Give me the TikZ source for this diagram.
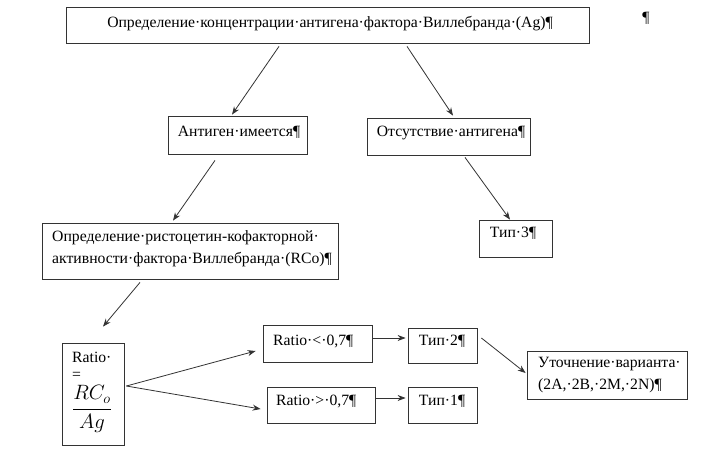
\documentclass[tikz,border=0pt]{standalone}
\usepackage{fontspec}
\setmainfont{Liberation Serif}
\usetikzlibrary{calc,arrows.meta}
\begin{document}
\begin{tikzpicture}[x=1pt,y=-1pt,
  box/.style={draw=black!80,line width=0.8pt,rectangle,inner sep=0pt},
  txt/.style={inner sep=0pt,font=\fontsize{15.7}{22}\selectfont,text=black},
  arr/.style={draw=black!80,line width=0.8pt,-{Stealth[length=8pt,width=6pt]}}]
\useasboundingbox[fill=white] (0,0) rectangle (708,452);
% boxes
\node[box,minimum width=523pt,minimum height=36pt] (top) at (327.5,25) {};
\node[box,minimum width=139pt,minimum height=38pt] (ag) at (237.5,135) {};
\node[box,minimum width=163pt,minimum height=37pt] (abs) at (448.5,136.5) {};
\node[box,minimum width=296pt,minimum height=56pt] (rco) at (190,251) {};
\node[box,minimum width=73pt,minimum height=37pt] (t3) at (515.5,238.5) {};
\node[box,minimum width=62pt,minimum height=102pt] (ratio) at (93,394) {};
\node[box,minimum width=109pt,minimum height=37pt] (lt) at (317.5,343.5) {};
\node[box,minimum width=108pt,minimum height=36pt] (gt) at (321,405) {};
\node[box,minimum width=69pt,minimum height=35pt] (t2) at (442.5,345.5) {};
\node[box,minimum width=69pt,minimum height=36pt] (t1) at (442.5,405) {};
\node[box,minimum width=160pt,minimum height=48pt] (var) at (607,375) {};
% texts
\node[txt] (toptxt) at (330,24) {Определение·концентрации·антигена·фактора·Виллебранда·(Ag)¶};
\node[txt] (agtxt) at (239,132) {Антиген·имеется¶};
\node[txt] (abstxt) at (451,133) {Отсутствие·антигена¶};
\node[txt,anchor=west,align=left] (rcotxt) at (52,249) {Определение·ристоцетин-кофакторной·\\активности·фактора·Виллебранда·(RCo)¶};
\node[txt] (t3txt) at (513,233) {Тип·3¶};
\node[txt,anchor=west] (ratiotxt) at (72,357) {Ratio·};
\node[txt,anchor=west] (eqtxt) at (72,376) {=};
\node[inner sep=0pt,font=\fontsize{20}{24}\selectfont] (fractxt) at (92,409) {$\displaystyle\frac{RC_{o}}{Ag}$};
\node[txt,anchor=west] (lttxt) at (273,341) {Ratio·<·0,7¶};
\node[txt,anchor=west] (gttxt) at (276,401) {Ratio·>·0,7¶};
\node[txt] (t2txt) at (442,341) {Тип·2¶};
\node[txt] (t1txt) at (442,401) {Тип·1¶};
\node[txt,anchor=west,align=left] (vartxt) at (538,375.5) {Уточнение·варианта·\\(2A,·2B,·2M,·2N)¶};
\node[txt] (pil) at (646,18) {¶};
% arrows
\draw[arr] ($(top.south)+(-48.5,3)$) -- ($(ag.north)+(-5.5,-1)$);
\draw[arr] ($(top.south)+(79.5,3)$) -- ($(abs.north)+(4.5,-2)$);
\draw[arr] ($(ag.south)+(-22.5,6)$) -- ($(rco.north)+(-17,-2)$);
\draw[arr] ($(abs.south)+(16.5,2)$) -- ($(t3.north)+(-5.5,0)$);
\draw[arr] ($(rco.south)+(-50,3)$) -- ($(ratio.north)+(10,-16)$);
\draw[arr] ($(ratio.east)+(2,-8)$) -- ($(lt.west)+(-7,7.5)$);
\draw[arr] ($(ratio.east)+(2,-8)$) -- ($(gt.west)+(-6,4)$);
\draw[arr] ($(lt.east)+(1,-5.5)$) -- ($(t2.west)+(-2,-7.5)$);
\draw[arr] ($(gt.east)+(1,-7)$) -- ($(t1.west)+(-2,-7)$);
\draw[arr] ($(t2.east)+(4,-7.5)$) -- ($(var.west)+(-1,-2)$);
\end{tikzpicture}
\end{document}
